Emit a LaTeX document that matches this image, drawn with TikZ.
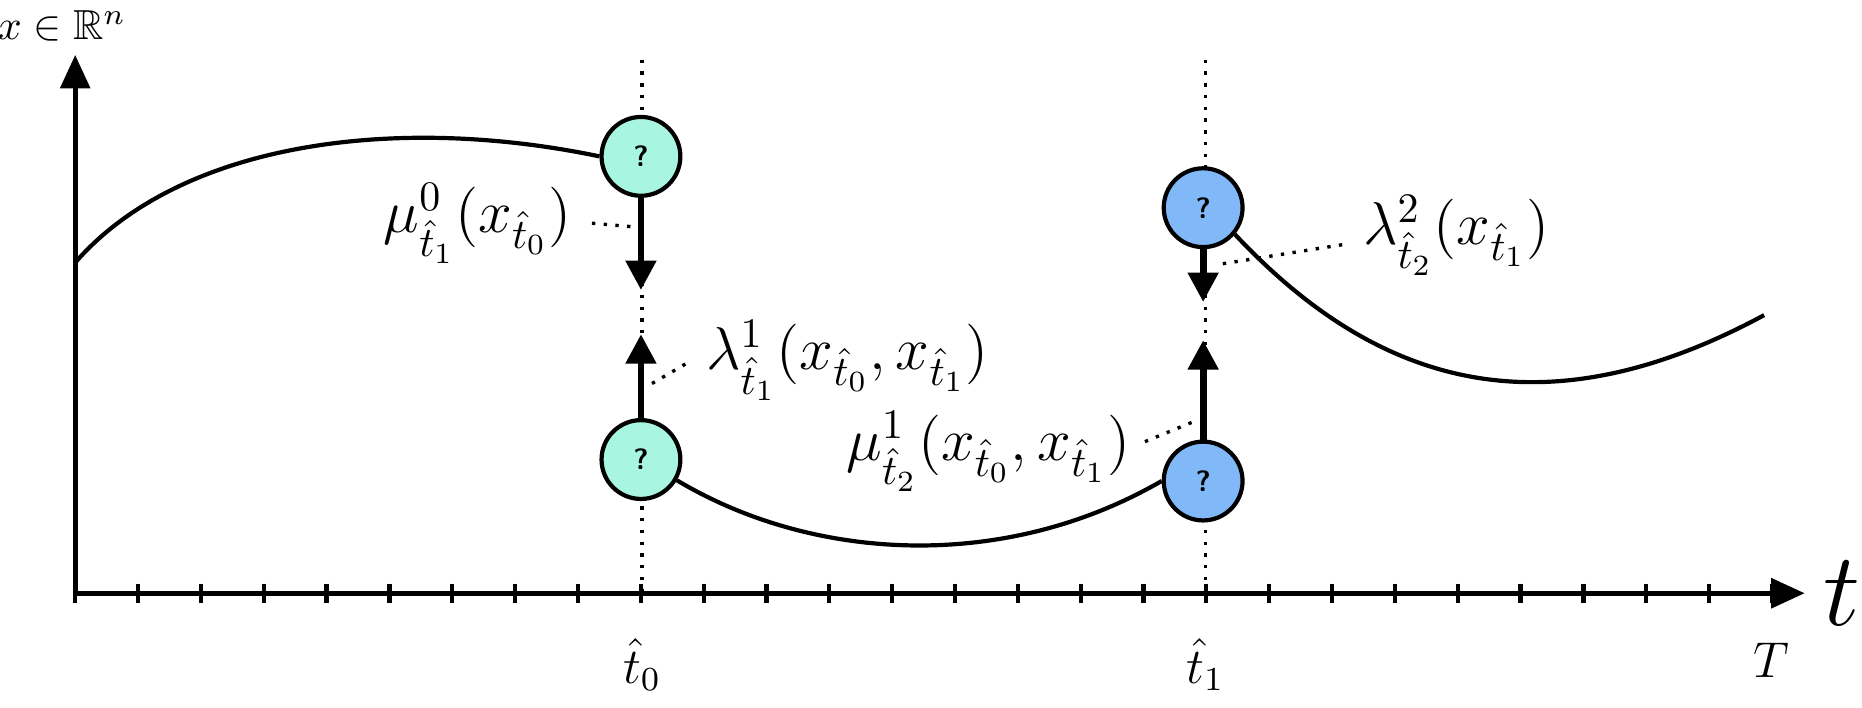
\documentclass[tikz,border=0pt]{standalone}
\usepackage{amssymb}
\usetikzlibrary{arrows.meta}
\definecolor{tealf}{HTML}{A8F5E2}
\definecolor{bluef}{HTML}{80B8F8}
\begin{document}
\begin{tikzpicture}[x=0.01cm,y=-0.01cm,
  ball/.style={circle,draw,line width=1pt,minimum size=0.66cm,inner sep=0pt,font=\sffamily\bfseries\scriptsize},
  tealball/.style={ball,fill=tealf},
  blueball/.style={ball,fill=bluef},
  force/.style={line width=1.6pt,-{Triangle[length=7pt,width=7pt]}},
  lead/.style={dotted,line width=0.8pt},
  curve/.style={line width=1pt},
  lab/.style={font=\large}]
\useasboundingbox (0,0) rectangle (1560,593);
% axes
\coordinate (o) at (63,497);
\coordinate (ytop) at (63,46);
\coordinate (xend) at (1512,497);
\draw[line width=1.2pt,-{Triangle[length=8pt,width=7pt]}] (o) -- (ytop);
\draw[line width=1.2pt,-{Triangle[length=8pt,width=7pt]}] (o) -- (xend);
\foreach \i in {0,...,27} \draw[line width=1pt] (63+\i*52.65,489) -- (63+\i*52.65,505);
\node[font=\normalsize] (ylab) at (52,22) {$x\in\mathbb{R}^n$};
\node[font=\Huge] (tlab) at (1543,497) {$t$};
\node[lab] (t0) at (538,557) {$\hat t_0$};
\node[lab] (t1) at (1010,557) {$\hat t_1$};
\node[lab] (T) at (1484,553) {$T$};
% dotted verticals
\draw[lead] (538,50) -- (538,497);
\draw[lead] (1010,50) -- (1010,497);
% balls
\node[tealball] (a) at (537,131) {?};
\node[tealball] (b) at (537,385) {?};
\node[blueball] (c) at (1008,174) {?};
\node[blueball] (d) at (1008,403) {?};
% curves
\coordinate (s) at (63,220);
\coordinate (e) at (1478,264);
\draw[curve] (s) .. controls (150,120) and (330,95) .. (a.west);
\draw[curve] (b.-30) .. controls (680,470) and (840,480) .. (d.west);
\draw[curve] (c.-40) .. controls (1160,330) and (1300,360) .. (e);
% arrows
\coordinate (a2) at (537,243);
\coordinate (b2) at (537,280);
\coordinate (c2) at (1008,253);
\coordinate (d2) at (1008,285);
\draw[force] (a.south) -- (a2);
\draw[force] (b.north) -- (b2);
\draw[force] (c.south) -- (c2);
\draw[force] (d.north) -- (d2);
% labels
\node[lab,font=\Large] (m0) at (400,187) {$\mu^0_{\hat t_1}(x_{\hat t_0})$};
\node[lab,font=\Large] (l1) at (710,302) {$\lambda^1_{\hat t_1}(x_{\hat t_0},x_{\hat t_1})$};
\node[lab,font=\Large] (m1) at (828,378) {$\mu^1_{\hat t_2}(x_{\hat t_0},x_{\hat t_1})$};
\node[lab,font=\Large] (l2) at (1220,197) {$\lambda^2_{\hat t_2}(x_{\hat t_1})$};
\coordinate (p0) at (530,190);
\coordinate (p1) at (545,322);
\coordinate (p2) at (1003,352);
\coordinate (p3) at (1018,222);
\draw[lead] (m0.east) ++(5,0) -- (p0);
\draw[lead] (l1.west) ++(-5,3) -- (p1);
\draw[lead] (m1.east) ++(0,-8) -- (p2);
\draw[lead] (l2.west) ++(-5,8) -- (p3);
\end{tikzpicture}
\end{document}
